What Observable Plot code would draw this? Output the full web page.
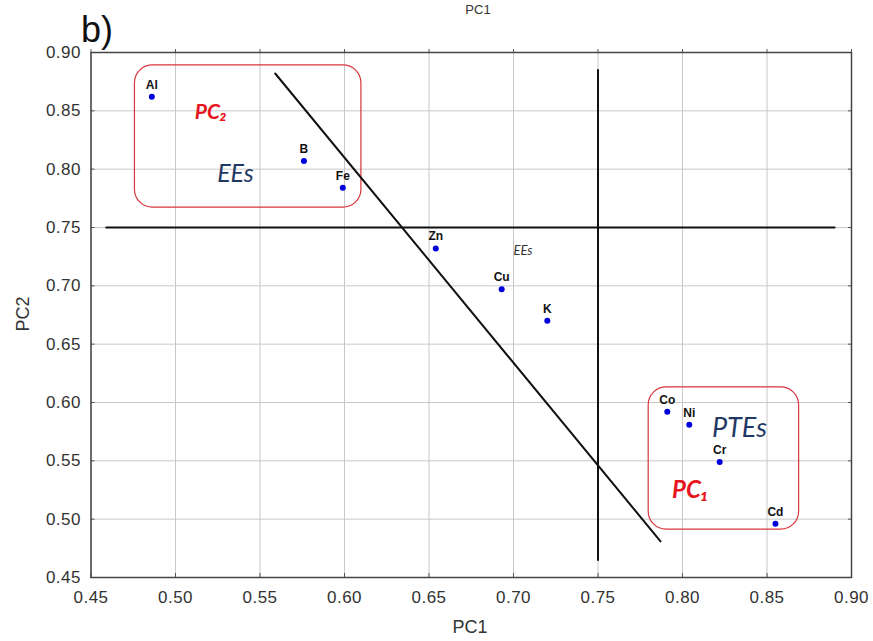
<!DOCTYPE html>
<html>
<head>
<meta charset="utf-8">
<script src="https://cdn.jsdelivr.net/npm/d3@7"></script>
<script src="https://cdn.jsdelivr.net/npm/@observablehq/plot@0.6"></script>
<style>
  html, body { margin: 0; padding: 0; background: #fff; }
</style>
</head>
<body>
<div id="chart"></div>
<script>
// Data
const elements = ["Al", "B", "Fe", "Zn", "Cu", "K", "Co", "Ni", "Cr", "Cd"];
const pc1 = [0.486, 0.576, 0.599, 0.654, 0.693, 0.720, 0.791, 0.804, 0.822, 0.855];
const pc2 = [0.862, 0.807, 0.784, 0.732, 0.697, 0.670, 0.592, 0.581, 0.549, 0.496];

const xTicks = [0.45, 0.50, 0.55, 0.60, 0.65, 0.70, 0.75, 0.80, 0.85, 0.90];
const yTicks = [0.45, 0.50, 0.55, 0.60, 0.65, 0.70, 0.75, 0.80, 0.85, 0.90];

// Reference lines (endpoints in data units)
const hLine = [{x: 0.459, y: 0.75}, {x: 0.890, y: 0.75}];
const vLine = [{x: 0.75, y: 0.885}, {x: 0.75, y: 0.465}];
const diagLine = [{x: 0.559, y: 0.882}, {x: 0.787, y: 0.481}];

// Group boxes
const boxes = [
  {x1: 0.476, x2: 0.610, y1: 0.767, y2: 0.889},
  {x1: 0.780, x2: 0.869, y1: 0.491, y2: 0.613}
];

// Annotations
const pcLabels = [
  {text: "PC₂", x: 0.521, y: 0.849, size: 21},
  {text: "PC₁", x: 0.8047, y: 0.5246, size: 24}
];
const groupLabels = [
  {text: "EEs", x: 0.5355, y: 0.796, size: 25, color: "#1f3864"},
  {text: "PTEs", x: 0.8337, y: 0.578, size: 27, color: "#1f3864"},
  {text: "EEs", x: 0.7056, y: 0.7297, size: 13, color: "#333"}
];

const points = elements.map((e, i) => ({name: e, x: pc1[i], y: pc2[i]}));

const chart = Plot.plot({
  width: 873,
  height: 641,
  marginLeft: 90.5,
  marginRight: 22,
  marginTop: 52,
  marginBottom: 64,
  style: {fontFamily: "Liberation Sans, Arial, sans-serif", fontSize: "17px", background: "#fff"},
  x: {domain: [0.45, 0.90]},
  y: {domain: [0.45, 0.90]},
  marks: [
    Plot.gridX(xTicks, {stroke: "#c8c8c8", strokeOpacity: 1, strokeWidth: 1}),
    Plot.gridY(yTicks, {stroke: "#c8c8c8", strokeOpacity: 1, strokeWidth: 1}),
    Plot.axisX(xTicks, {anchor: "bottom", tickSize: 0, tickPadding: 13, fontSize: 17, fill: "#333", label: null, tickFormat: d3.format(".2f")}),
    Plot.axisY(yTicks, {anchor: "left", tickSize: 0, tickPadding: 10, fontSize: 17, fill: "#333", label: null, tickFormat: d3.format(".2f")}),
    Plot.axisX(xTicks, {anchor: "bottom", tickSize: -4, text: null, label: null, stroke: "#555"}),
    Plot.axisX(xTicks, {anchor: "top", tickSize: 4, text: null, label: null, stroke: "#555"}),
    Plot.axisY(yTicks, {anchor: "left", tickSize: -4, text: null, label: null, stroke: "#555"}),
    Plot.axisY(yTicks, {anchor: "right", tickSize: -4, text: null, label: null, stroke: "#555"}),
    Plot.frame({stroke: "#444", strokeWidth: 1.5}),
    Plot.rect(boxes, {x1: "x1", x2: "x2", y1: "y1", y2: "y2", rx: 18, fill: "none", stroke: "#d9363e", strokeWidth: 1.2}),
    Plot.line(hLine, {x: "x", y: "y", stroke: "#111", strokeWidth: 2}),
    Plot.line(vLine, {x: "x", y: "y", stroke: "#111", strokeWidth: 2}),
    Plot.line(diagLine, {x: "x", y: "y", stroke: "#111", strokeWidth: 2}),
    Plot.dot(points, {x: "x", y: "y", r: 3, fill: "#0000dd", stroke: "none"}),
    Plot.text(points, {x: "x", y: "y", text: "name", dy: -12, fontSize: 12, fontWeight: "bold", fill: "#111"}),
    Plot.text(pcLabels, {x: "x", y: "y", text: "text", fill: "#e8141c", fontSize: "size", fontWeight: "bold", fontStyle: "italic", fontFamily: "Lato, Open Sans, sans-serif"}),
    Plot.text(groupLabels, {x: "x", y: "y", text: "text", fill: "color", fontSize: "size", fontStyle: "italic", fontFamily: "Lato, Open Sans, sans-serif"})
  ]
});

document.getElementById("chart").appendChild(chart);
const svg = d3.select(chart);
svg.selectAll('[aria-label$="tick label"] text').attr("letter-spacing", "0.5px");

// Extra titles as text
svg.append("text").attr("x", 97).attr("y", 42).attr("font-size", 36)
  .attr("font-family", "Liberation Sans, Arial, sans-serif").attr("fill", "#111").text("b)");
svg.append("text").attr("x", 478).attr("y", 14).attr("text-anchor", "middle").attr("font-size", 13)
  .attr("font-family", "Liberation Sans, Arial, sans-serif").attr("fill", "#333").text("PC1");
svg.append("text").attr("x", 470).attr("y", 633).attr("text-anchor", "middle").attr("font-size", 18)
  .attr("font-family", "Liberation Sans, Arial, sans-serif").attr("fill", "#333").text("PC1");
svg.append("text").attr("transform", "translate(29,314) rotate(-90)").attr("text-anchor", "middle").attr("font-size", 18)
  .attr("font-family", "Liberation Sans, Arial, sans-serif").attr("fill", "#333").text("PC2");
</script>
</body>
</html>
